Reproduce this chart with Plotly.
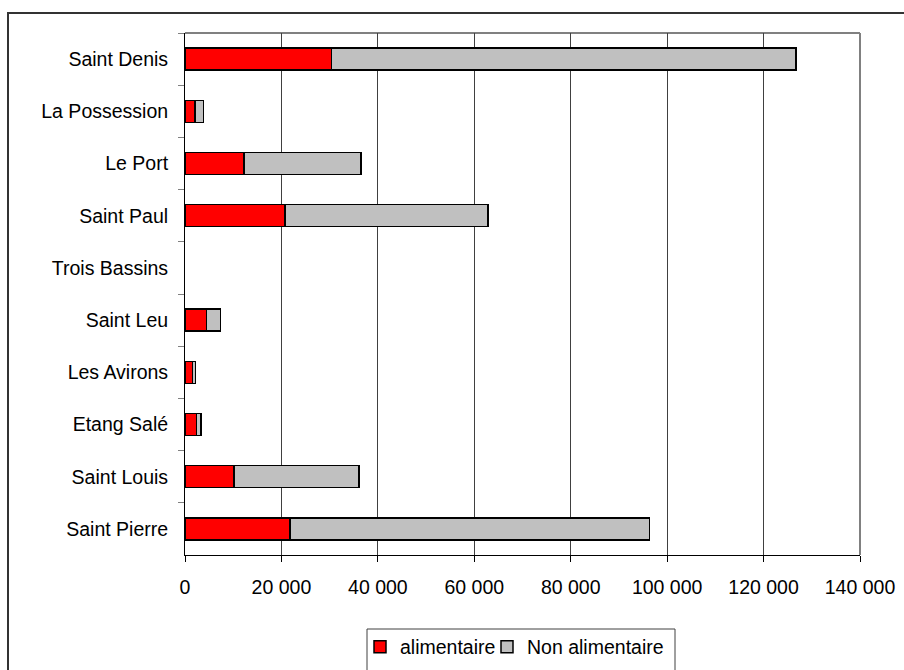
import plotly.graph_objects as go

# Communes, listed top to bottom
communes = ["Saint Denis", "La Possession", "Le Port", "Saint Paul", "Trois Bassins",
            "Saint Leu", "Les Avirons", "Etang Salé", "Saint Louis", "Saint Pierre"]

# Floor area by category
alimentaire = [30400, 2100, 12200, 20700, 0, 4500, 1600, 2400, 10200, 21800]
non_alimentaire = [96300, 1700, 24300, 42100, 0, 2900, 550, 950, 25900, 74500]

x_tickvals = [0, 20000, 40000, 60000, 80000, 100000, 120000, 140000]
x_ticktext = ["0", "20 000", "40 000", "60 000", "80 000", "100 000", "120 000", "140 000"]

W, H = 904, 670
L, R, T, B = 185, 860, 33, 555   # plot area in pixels


def px_to_paper_x(px):
    return (px - L) / (R - L)


def px_to_paper_y(py):
    return (B - py) / (B - T)


def outline_widths(values):
    # no outline on empty bars
    return [1.5 if v > 0 else 0 for v in values]


font = dict(family="Liberation Sans, Arial, sans-serif", size=19.5, color="black")

fig = go.Figure()
fig.add_trace(go.Bar(
    y=communes, x=alimentaire, orientation="h", name="alimentaire", legend="legend",
    marker=dict(color="#FF0000", line=dict(color="black", width=outline_widths(alimentaire))),
))
fig.add_trace(go.Bar(
    y=communes, x=non_alimentaire, orientation="h", name="Non alimentaire", legend="legend2",
    marker=dict(color="#C0C0C0", line=dict(color="black", width=outline_widths(non_alimentaire))),
))

shapes = [
    # outer chart frame
    dict(type="rect", xref="paper", yref="paper",
         x0=px_to_paper_x(8), x1=px_to_paper_x(915),
         y0=px_to_paper_y(690), y1=px_to_paper_y(13),
         line=dict(color="#333333", width=2), layer="below"),
    # plot area top and right borders
    dict(type="line", xref="paper", yref="paper", x0=0, x1=1, y0=1, y1=1,
         line=dict(color="#808080", width=2), layer="below"),
    dict(type="line", xref="paper", yref="paper", x0=1, x1=1, y0=0, y1=1,
         line=dict(color="#808080", width=2), layer="below"),
    # legend frame
    dict(type="rect", xref="paper", yref="paper",
         x0=px_to_paper_x(367), x1=px_to_paper_x(675),
         y0=px_to_paper_y(690), y1=px_to_paper_y(629),
         line=dict(color="#404040", width=1), layer="below"),
]

legend_common = dict(orientation="h", xanchor="left", yanchor="middle",
                     y=px_to_paper_y(647), bgcolor="rgba(0,0,0,0)", borderwidth=0,
                     font=font, itemclick=False, itemdoubleclick=False)

fig.update_layout(
    width=W, height=H,
    margin=dict(l=L, r=W - R, t=T, b=H - B, autoexpand=False),
    paper_bgcolor="white", plot_bgcolor="white",
    font=font,
    barmode="stack", bargap=0.58,
    showlegend=True,
    legend=dict(x=px_to_paper_x(360), **legend_common),
    legend2=dict(x=px_to_paper_x(487), **legend_common),
    shapes=shapes,
    xaxis=dict(range=[0, 140000], tickvals=x_tickvals, ticktext=x_ticktext,
               showgrid=True, gridcolor="#404040", gridwidth=1,
               showline=True, linecolor="black", linewidth=1,
               ticks="outside", ticklen=6, tickcolor="black",
               zeroline=False, ticklabelstandoff=9, fixedrange=True),
    yaxis=dict(categoryorder="array", categoryarray=communes, autorange="reversed",
               showgrid=False, showline=True, linecolor="black", linewidth=1,
               ticks="outside", ticklen=6, tickcolor="#808080", tickson="boundaries",
               ticklabelstandoff=12, zeroline=False, fixedrange=True),
)

fig.write_html("out.html")
